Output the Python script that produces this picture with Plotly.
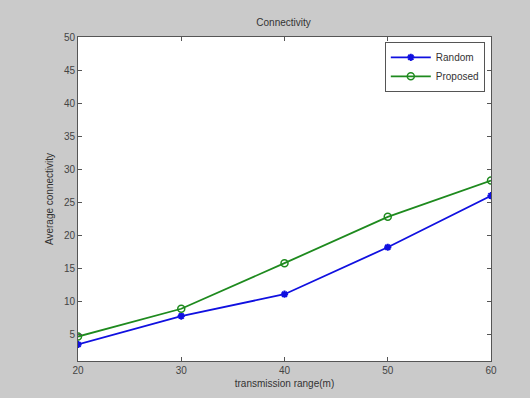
import plotly.graph_objects as go

x_range_m = [20, 30, 40, 50, 60]
random_vals = [3.5, 7.8, 11.1, 18.2, 26.0]
proposed_vals = [4.7, 8.9, 15.8, 22.8, 28.3]
x_ticks = [20, 30, 40, 50, 60]
y_ticks = [5, 10, 15, 20, 25, 30, 35, 40, 45, 50]

fig = go.Figure()
fig.add_trace(go.Scatter(x=x_range_m, y=random_vals, mode="lines+markers", name="Random",
                         line=dict(color="#1010e0", width=1.8),
                         marker=dict(symbol="asterisk-open", size=6, color="#1010e0",
                                     line=dict(color="#1010e0", width=2))))
fig.add_trace(go.Scatter(x=x_range_m, y=proposed_vals, mode="lines+markers", name="Proposed",
                         line=dict(color="#1e8a1e", width=1.8),
                         marker=dict(symbol="circle-open", size=7, color="#1e8a1e",
                                     line=dict(color="#1e8a1e", width=1.5))))

axis_common = dict(showgrid=False, zeroline=False, showline=True, mirror="ticks",
                   linecolor="#555555", linewidth=1, ticks="inside", ticklen=4,
                   tickcolor="#555555", tickfont=dict(size=10, color="#444444"))

fig.update_layout(
    width=530, height=398,
    paper_bgcolor="#cacaca", plot_bgcolor="white",
    margin=dict(l=78, r=39, t=37, b=37),
    font=dict(family="Liberation Sans, Arial, sans-serif", size=10, color="#333333"),
    title=dict(text="Connectivity", x=0.535, xanchor="center", y=0.943, yanchor="middle",
               font=dict(size=10, color="#333333")),
    xaxis=dict(range=[20, 60], tickvals=x_ticks,
               title=dict(text="transmission range(m)", standoff=4, font=dict(size=10)),
               **axis_common),
    yaxis=dict(range=[1, 50], tickvals=y_ticks,
               title=dict(text="Average connectivity", standoff=8, font=dict(size=10)),
               **axis_common),
    legend=dict(x=0.985, y=0.985, xanchor="right", yanchor="top",
                bgcolor="white", bordercolor="#555555", borderwidth=1,
                font=dict(size=10, color="#333333"), tracegroupgap=0, itemwidth=40),
    showlegend=True,
)

fig.write_html("out.html")
